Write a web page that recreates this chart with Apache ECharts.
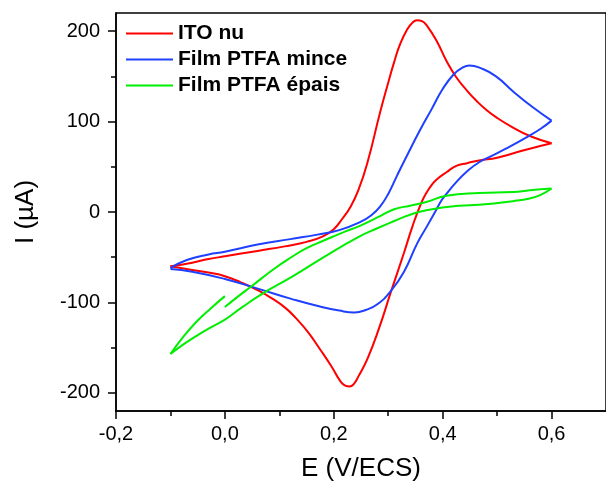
<!DOCTYPE html>
<html>
<head>
<meta charset="utf-8">
<script src="https://cdn.jsdelivr.net/npm/echarts@6/dist/echarts.min.js"></script>
<style>html,body{margin:0;padding:0;background:#fff;}#c{width:606px;height:487px;}</style>
</head>
<body>
<div id="c"></div>
<script>
// Legend names
const names = ['ITO nu', 'Film PTFA mince', 'Film PTFA épais'];

// ITO nu (red) - forward scan
const itoFwdE = [-0.1, -0.06, -0.03, 0.0, 0.06, 0.11, 0.15, 0.18, 0.2, 0.215, 0.23, 0.245, 0.262, 0.285, 0.3, 0.311, 0.322, 0.335, 0.344, 0.353, 0.362, 0.371, 0.389, 0.407, 0.425, 0.445, 0.462, 0.48, 0.5, 0.53, 0.56, 0.6];
const itoFwdI = [-60, -56, -52, -49, -43, -38, -33, -27, -19, -8, 5, 24, 55, 110, 143, 166, 186, 202, 209, 212, 211, 206, 189, 167, 149, 134, 123, 113, 104, 93, 84, 76];
// ITO nu (red) - reverse scan
const itoRevE = [0.6, 0.56, 0.53, 0.5, 0.467, 0.445, 0.425, 0.407, 0.389, 0.38, 0.37, 0.36, 0.345, 0.329, 0.304, 0.284, 0.262, 0.245, 0.237, 0.229, 0.221, 0.212, 0.195, 0.175, 0.153, 0.13, 0.111, 0.085, 0.062, 0.03, 0.0, -0.03, -0.06, -0.1];
const itoRevI = [76, 70, 65, 60, 57, 54, 51, 44, 36, 30, 21, 9, -15, -45, -90, -127, -162, -182, -190, -193, -192, -187, -170, -152, -133, -117, -106, -95, -87, -78, -71, -67, -64, -60];

// Film PTFA mince (blue)
const minceFwdE = [-0.1, -0.07, -0.03, 0.0, 0.06, 0.12, 0.17, 0.21, 0.249, 0.27, 0.285, 0.3, 0.316, 0.335, 0.358, 0.38, 0.4, 0.42, 0.435, 0.449, 0.47, 0.498, 0.53, 0.565, 0.6];
const minceFwdI = [-62, -53, -47, -44, -36, -30, -25, -20, -11, -3, 6, 20, 40, 63, 90, 114, 136, 152, 159, 162, 159, 150, 133, 116, 101];
const minceRevE = [0.6, 0.58, 0.558, 0.516, 0.49, 0.467, 0.445, 0.425, 0.407, 0.398, 0.386, 0.37, 0.353, 0.329, 0.304, 0.28, 0.26, 0.238, 0.21, 0.171, 0.122, 0.062, 0.0, -0.06, -0.1];
const minceRevI = [101, 92, 84, 70, 62, 55, 45, 33, 20, 13, 0, -17, -35, -66, -88, -102, -108, -111, -109, -104, -96, -85, -74, -66, -63];

// Film PTFA épais (green)
const epaisStartE = [0.0, -0.025, -0.05, -0.075, -0.1];
const epaisStartI = [-93, -106, -120, -137, -157];
const epaisFwdE = [-0.1, -0.08, -0.06, -0.03, 0.0, 0.03, 0.067, 0.122, 0.184, 0.244, 0.28, 0.311, 0.34, 0.37, 0.431, 0.467, 0.529, 0.56, 0.58, 0.6];
const epaisFwdI = [-157, -148, -140, -129, -119, -106, -91, -72, -49, -28, -18, -10, -3, 2, 7, 8, 12, 15, 19, 26];
const epaisRevE = [0.6, 0.56, 0.529, 0.467, 0.407, 0.37, 0.34, 0.311, 0.28, 0.249, 0.215, 0.184, 0.15, 0.122, 0.09, 0.049, 0.025, 0.0];
const epaisRevI = [26, 24, 22, 21, 18, 11, 7, 3, -6, -15, -23, -31, -40, -50, -63, -82, -93, -105];

// Axis ticks
const xMajor = [-0.2, 0.0, 0.2, 0.4, 0.6];
const xMinor = [-0.1, 0.1, 0.3, 0.5];
const yMajor = [-200, -100, 0, 100, 200];
const yMinor = [-150, -50, 50, 150];

const colors = {'ITO nu': '#ff0000', 'Film PTFA mince': '#2040ff', 'Film PTFA épais': '#00ee00'};
const zip = (a, b) => a.map((v, i) => [v, b[i]]);
function ser(name, e, i) {
  return {
    name: name, type: 'line', data: zip(e, i), smooth: 0.5, showSymbol: false, symbol: 'none',
    lineStyle: {color: colors[name], width: 2}, itemStyle: {color: colors[name]}, animation: false
  };
}
const font = 'Liberation Sans, Arial, sans-serif';
const chart = echarts.init(document.getElementById('c'));
const axLine = {show: true, onZero: false, lineStyle: {color: '#000', width: 1.5}};
const noLine = {show: false, onZero: false};
chart.setOption({
  backgroundColor: '#ffffff',
  animation: false,
  grid: {left: 116, top: 13, width: 495, height: 399, show: true, borderColor: '#000', borderWidth: 1.5, backgroundColor: 'transparent'},
  legend: {
    orient: 'vertical', left: 126, top: 23, padding: 0, itemWidth: 47, itemHeight: 2, itemGap: 5, icon: 'rect',
    textStyle: {fontSize: 21, fontWeight: 'bold', color: '#000', fontFamily: font},
    data: names
  },
  xAxis: [{
    type: 'value', min: -0.2, max: 0.7, position: 'bottom',
    axisLine: axLine, splitLine: {show: false},
    axisTick: {show: true, customValues: xMajor, length: 8, inside: false, lineStyle: {color: '#000', width: 1.5}},
    axisLabel: {customValues: xMajor, margin: 13, fontSize: 20, color: '#000', fontFamily: font,
      formatter: v => v.toFixed(1).replace('.', ',')},
    name: 'E (V/ECS)', nameLocation: 'middle', nameGap: 45,
    nameTextStyle: {fontSize: 26, color: '#000', fontFamily: font}
  }, {
    type: 'value', min: -0.2, max: 0.7, position: 'bottom',
    axisLine: noLine, splitLine: {show: false}, axisLabel: {show: false},
    axisTick: {show: true, customValues: xMinor, length: 5, inside: false, lineStyle: {color: '#000', width: 1.5}}
  }],
  yAxis: [{
    type: 'value', min: -220, max: 220, position: 'left',
    axisLine: axLine, splitLine: {show: false},
    axisTick: {show: true, customValues: yMajor, length: 8, inside: false, lineStyle: {color: '#000', width: 1.5}},
    axisLabel: {customValues: yMajor, margin: 16, fontSize: 20, color: '#000', fontFamily: font},
    name: 'I (µA)', nameLocation: 'middle', nameGap: 77,
    nameTextStyle: {fontSize: 26, color: '#000', fontFamily: font}
  }, {
    type: 'value', min: -220, max: 220, position: 'left',
    axisLine: noLine, splitLine: {show: false}, axisLabel: {show: false},
    axisTick: {show: true, customValues: yMinor, length: 5, inside: false, lineStyle: {color: '#000', width: 1.5}}
  }],
  series: [
    ser('ITO nu', itoFwdE, itoFwdI),
    ser('ITO nu', itoRevE, itoRevI),
    ser('Film PTFA mince', minceFwdE, minceFwdI),
    ser('Film PTFA mince', minceRevE, minceRevI),
    ser('Film PTFA épais', epaisStartE, epaisStartI),
    ser('Film PTFA épais', epaisFwdE, epaisFwdI),
    ser('Film PTFA épais', epaisRevE, epaisRevI)
  ]
});
</script>
</body>
</html>
